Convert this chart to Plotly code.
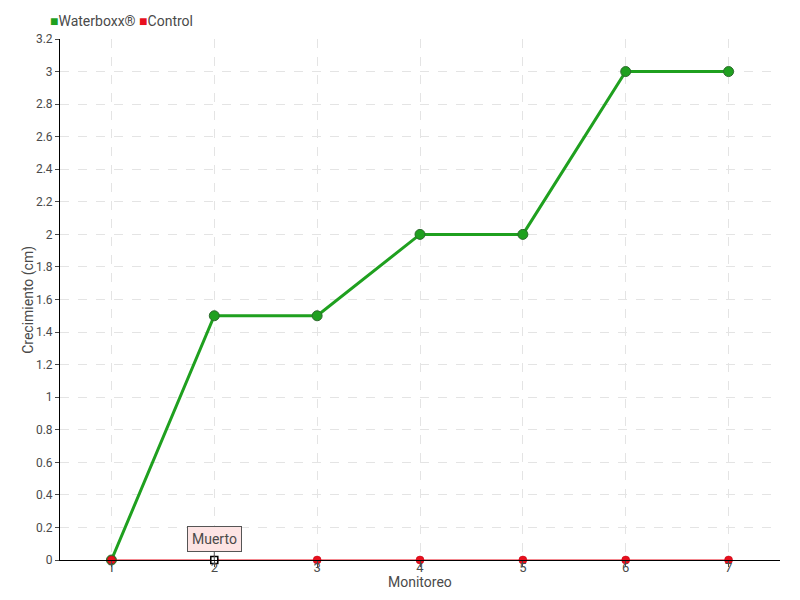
import plotly.graph_objects as go

monitoreo = [1, 2, 3, 4, 5, 6, 7]
waterboxx = [0, 1.5, 1.5, 2, 2, 3, 3]
control = [0, 0, 0, 0, 0, 0, 0]
y_ticks = [0, 0.2, 0.4, 0.6, 0.8, 1, 1.2, 1.4, 1.6, 1.8, 2, 2.2, 2.4, 2.6, 2.8, 3, 3.2]

FONT = "Roboto, sans-serif"
GREEN = "#1fa01f"
RED = "#e8101e"
TXT = "#4a4a4a"

fig = go.Figure()

fig.add_trace(go.Scatter(
    x=monitoreo, y=waterboxx, mode="lines+markers", name="Waterboxx®",
    line=dict(color=GREEN, width=3),
    marker=dict(color=GREEN, size=10, line=dict(color="#2d6a2d", width=1)),
    cliponaxis=False,
))

fig.add_trace(go.Scatter(
    x=monitoreo, y=control, mode="lines+markers", name="Control",
    line=dict(color=RED, width=1),
    marker=dict(color=RED, size=8, line=dict(color="#c00010", width=0.5)),
    cliponaxis=False,
))

# highlighted point (hover state in the original)
fig.add_trace(go.Scatter(
    x=[monitoreo[1]], y=[control[1]], mode="markers", showlegend=False,
    marker=dict(symbol="square", color="white", size=7, line=dict(color="black", width=1.5)),
    cliponaxis=False,
))

# compact legend, as in the original
fig.add_annotation(
    xref="paper", yref="paper", x=-0.017, y=1.0345, xanchor="left", yanchor="middle",
    showarrow=False,
    text=(f"<span style='color:{GREEN}'>■</span>Waterboxx® "
          f"<span style='color:{RED}'>■</span>Control"),
    font=dict(family=FONT, size=14, color=TXT),
)

# axis titles
fig.add_annotation(
    xref="paper", yref="paper", x=0.5, y=-0.043, xanchor="center", yanchor="middle",
    showarrow=False, text="Monitoreo", font=dict(family=FONT, size=14, color=TXT),
)
fig.add_annotation(
    xref="paper", yref="paper", x=-0.044, y=0.5, xanchor="center", yanchor="middle",
    showarrow=False, textangle=-90, text="Crecimiento (cm)",
    font=dict(family=FONT, size=14, color=TXT),
)

fig.add_annotation(
    x=monitoreo[1], y=control[1], text="Muerto",
    showarrow=True, arrowhead=0, arrowcolor="#555", arrowwidth=1,
    ax=0, ay=-21, bgcolor="#fde4e4", bordercolor="#555", borderwidth=1,
    borderpad=4, font=dict(family=FONT, size=14, color=TXT),
)

# page body has an 8px margin, so the figure is a little smaller than the window
fig.update_layout(
    width=784, height=584,
    paper_bgcolor="white", plot_bgcolor="white",
    margin=dict(l=52, r=12, t=31, b=32),
    font=dict(family=FONT, size=14, color=TXT),
    showlegend=False,
    hovermode=False,
)

fig.update_xaxes(
    range=[0.5, 7.5], tickvals=monitoreo, ticktext=[str(m) for m in monitoreo],
    showgrid=True, gridcolor="#e4e4e4", griddash="dash",
    showline=True, linecolor="black", linewidth=1,
    ticks="outside", ticklen=6, tickcolor=TXT,
    ticklabelstandoff=-11, tickfont=dict(family=FONT, size=13, color=TXT),
    zeroline=False, automargin=False,
)

fig.update_yaxes(
    range=[0, 3.2], tickvals=y_ticks, ticktext=[f"{v:g}" for v in y_ticks],
    showgrid=True, gridcolor="#e4e4e4", griddash="dash",
    showline=True, linecolor="black", linewidth=1,
    ticks="outside", ticklen=4, tickcolor=TXT,
    tickfont=dict(family=FONT, size=12, color=TXT),
    zeroline=False, automargin=False,
)

fig.write_html("out.html")
